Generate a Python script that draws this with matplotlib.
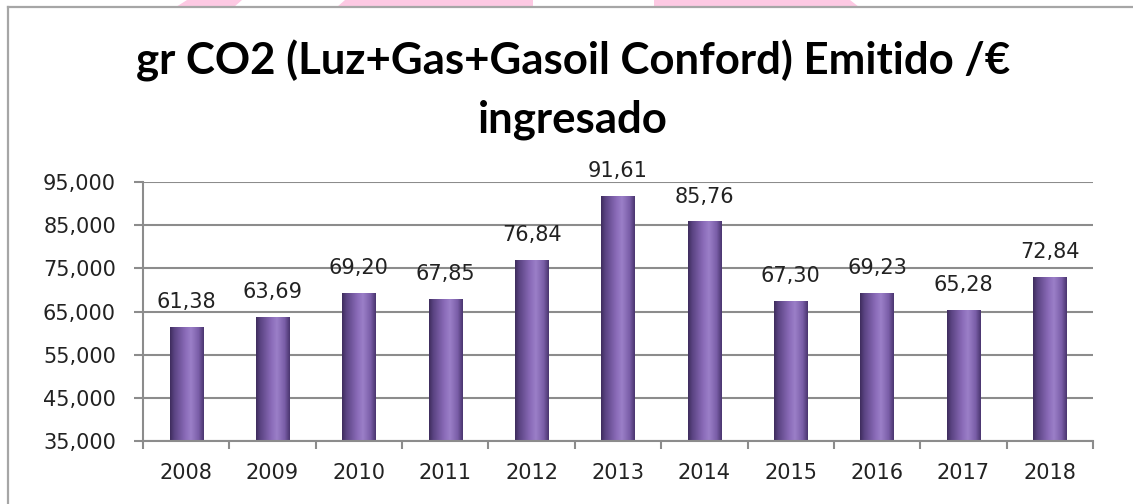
import matplotlib
matplotlib.use("Agg")
import matplotlib.pyplot as plt
import numpy as np
from matplotlib.colors import LinearSegmentedColormap
from matplotlib.patches import Polygon
from matplotlib.lines import Line2D

years = ["2008", "2009", "2010", "2011", "2012", "2013", "2014", "2015", "2016", "2017", "2018"]
values = [61380, 63690, 69200, 67850, 76840, 91610, 85760, 67300, 69230, 65280, 72840]
value_labels = ["61,38", "63,69", "69,20", "67,85", "76,84", "91,61", "85,76", "67,30", "69,23", "65,28", "72,84"]
yticks = [35000, 45000, 55000, 65000, 75000, 85000, 95000]
ytick_labels = ["35,000", "45,000", "55,000", "65,000", "75,000", "85,000", "95,000"]
title_line1 = "gr CO2 (Luz+Gas+Gasoil Conford) Emitido /€"
title_line2 = "ingresado"

W, H = 1133, 504
fig = plt.figure(figsize=(W / 100, H / 100), dpi=100)
fig.patch.set_facecolor("white")

def fx(px):
    return px / W

def fy(py):
    return 1 - py / H

# pink watermark shapes above the chart frame
pink = "#fdc9e3"
for pts in [
    [(176, 7), (187, 0), (242, 0), (234, 7)],
    [(337, 7), (345, 0), (533, 0), (533, 7)],
    [(654, 7), (654, 0), (850, 0), (859, 7)],
]:
    fig.patches.append(Polygon([(fx(x), fy(y)) for x, y in pts], closed=True,
                               transform=fig.transFigure, facecolor=pink,
                               edgecolor="none", zorder=0))

# chart frame
frame_col = "#a6a6a6"
fig.lines.append(Line2D([fx(8), 1], [fy(7), fy(7)], transform=fig.transFigure,
                        color=frame_col, lw=1.6))
fig.lines.append(Line2D([fx(8), fx(8)], [fy(7), 0], transform=fig.transFigure,
                        color=frame_col, lw=1.6))

ax = fig.add_axes([fx(143), fy(441), fx(1093) - fx(143), fy(182) - fy(441)])
ax.set_facecolor("none")

n = len(years)
x = np.arange(n)
width = 0.385

grid_col = "#8c8c8c"
ax.set_yticks(yticks)
ax.set_yticklabels(ytick_labels)
ax.yaxis.grid(True, color=grid_col, lw=1.5, zorder=0)
ax.set_axisbelow(True)

for s in ["top", "right"]:
    ax.spines[s].set_visible(False)
for s in ["left", "bottom"]:
    ax.spines[s].set_color(grid_col)
    ax.spines[s].set_linewidth(1.5)

lab_col = "#222222"
ax.tick_params(axis="y", length=6.5, width=1.5, color=grid_col, pad=13,
               labelsize=15, labelcolor=lab_col)
ax.set_xticks(x)
ax.set_xticklabels(years)
ax.tick_params(axis="x", which="major", length=0, pad=16, labelsize=15,
               labelcolor=lab_col)
ax.set_xticks(np.arange(n + 1) - 0.5, minor=True)
ax.tick_params(axis="x", which="minor", length=6, width=1.5, color=grid_col)

# cylinder-like gradient
cmap = LinearSegmentedColormap.from_list(
    "cyl", [(0.0, "#3f2d5e"), (0.12, "#5a4382"), (0.45, "#8a6bb8"),
            (0.62, "#9b7fc8"), (0.85, "#7a5ea8"), (1.0, "#4b3670")])
grad = np.linspace(0, 1, 64).reshape(1, -1)
for xi, v, lab in zip(x, values, value_labels):
    ax.imshow(grad, cmap=cmap, aspect="auto", interpolation="bilinear",
              extent=[xi - width / 2, xi + width / 2, 35000, v], zorder=2)
    ax.annotate(lab, (xi, v), xytext=(0, 11), textcoords="offset points",
                ha="center", va="bottom", fontsize=15, color=lab_col)
ax.set_xlim(-0.5, n - 0.5)
ax.set_ylim(35000, 95000)

tkw = dict(ha="center", va="baseline", fontsize=31.5, fontweight="bold",
           family="Lato", color="black")
fig.text(fx(573), fy(74), title_line1, **tkw)
fig.text(fx(573), fy(133), title_line2, **tkw)

fig.savefig("out.png", dpi=100, facecolor="white")
